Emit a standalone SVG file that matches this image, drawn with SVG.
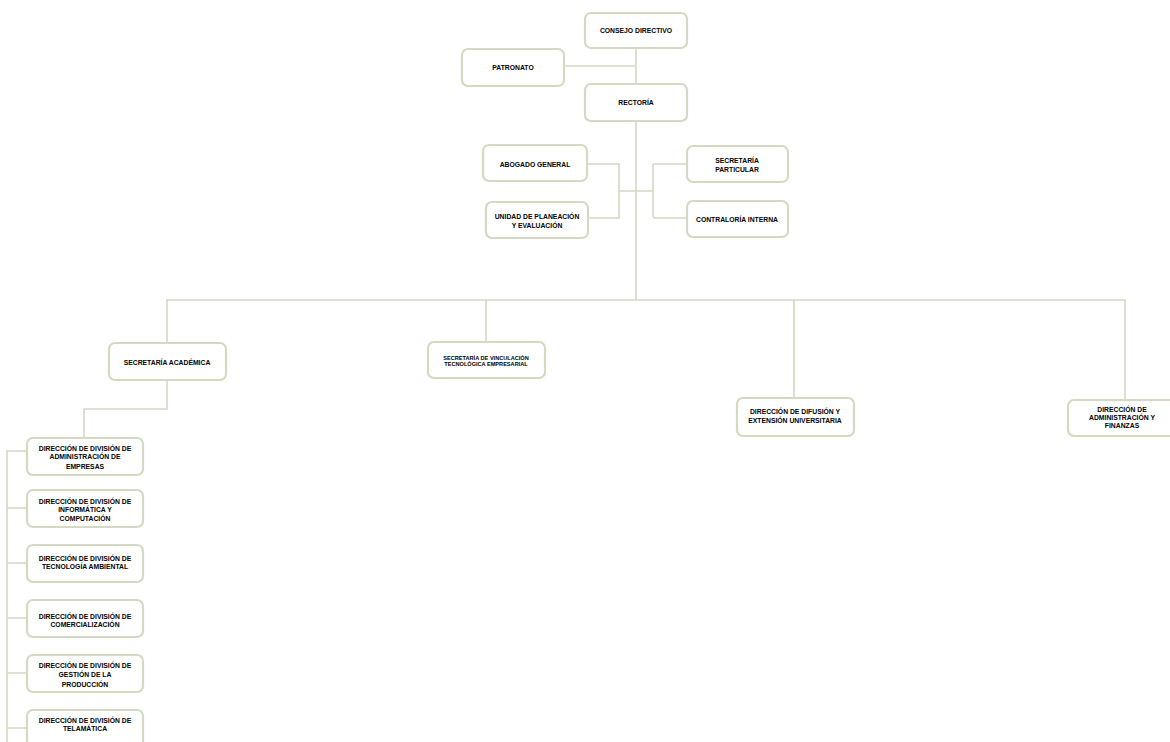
<svg xmlns="http://www.w3.org/2000/svg" width="1170" height="742" viewBox="0 0 1170 742">
<style>
.box{fill:#ffffff;stroke:#d5d8c3;stroke-width:2.2}
.ln{fill:none;stroke:#d5d8c3;stroke-width:1.6}
text{font-family:"Liberation Sans",Arial,sans-serif;font-weight:bold;font-size:6.8px;fill:#000000;text-anchor:middle}
.sm{font-size:5.6px}
</style>
<rect width="1170" height="742" fill="#ffffff"/>
<g id="connectors">
<path class="ln" d="M636 48V84M564 66H636M636 121V300"/>
<path class="ln" d="M587 164H619V218H588M619 191H653M653 164V217M653 164H687M653 218H687"/>
<path class="ln" d="M167 343V300H1125V400M486 300V342M794 300V398"/>
<path class="ln" d="M167 380V409H84V438"/>
<path class="ln" d="M7 742V451H27M7 508H27M7 563H27M7 618H27M7 673H27M7 728H27"/>
</g>
<g id="consejo"><rect class="box" x="585" y="13" width="102" height="35" rx="6"/><text x="636" y="33">CONSEJO DIRECTIVO</text></g>
<g id="patronato"><rect class="box" x="462" y="49" width="102" height="37" rx="6"/><text x="513" y="70">PATRONATO</text></g>
<g id="rectoria"><rect class="box" x="585" y="84" width="102" height="37" rx="6"/><text x="636" y="105">RECTORÍA</text></g>
<g id="abogado"><rect class="box" x="483" y="145" width="104" height="36" rx="6"/><text x="535" y="166.5">ABOGADO GENERAL</text></g>
<g id="unidad"><rect class="box" x="486" y="202" width="102" height="36" rx="6"/><text x="537" y="218.5">UNIDAD DE PLANEACIÓN</text><text x="537" y="227.5">Y EVALUACIÓN</text></g>
<g id="particular"><rect class="box" x="687" y="146" width="101" height="36" rx="6"/><text x="737" y="162.5">SECRETARÍA</text><text x="737" y="171.5">PARTICULAR</text></g>
<g id="contraloria"><rect class="box" x="687" y="201" width="101" height="36" rx="6"/><text x="737" y="221.5">CONTRALORÍA INTERNA</text></g>
<g id="academica"><rect class="box" x="109" y="343" width="117" height="37" rx="6"/><text x="167" y="364.5">SECRETARÍA ACADÉMICA</text></g>
<g id="vinculacion"><rect class="box" x="428" y="342" width="117" height="36" rx="6"/><text class="sm" x="486" y="360">SECRETARÍA DE VINCULACIÓN</text><text class="sm" x="486" y="366">TECNOLÓGICA EMPRESARIAL</text></g>
<g id="difusion"><rect class="box" x="737" y="398" width="117" height="38" rx="6"/><text x="795" y="413.5">DIRECCIÓN DE DIFUSIÓN Y</text><text x="795" y="423">EXTENSIÓN UNIVERSITARIA</text></g>
<g id="finanzas"><rect class="box" x="1068" y="400" width="115" height="36" rx="6"/><text x="1122" y="411.5">DIRECCIÓN DE</text><text x="1122" y="419.5">ADMINISTRACIÓN Y</text><text x="1122" y="427.5">FINANZAS</text></g>
<g id="div-empresas"><rect class="box" x="27" y="438" width="116" height="37" rx="6"/><text x="85" y="450.5">DIRECCIÓN DE DIVISIÓN DE</text><text x="85" y="459">ADMINISTRACIÓN DE</text><text x="85" y="469">EMPRESAS</text></g>
<g id="div-informatica"><rect class="box" x="27" y="490" width="116" height="37" rx="6"/><text x="85" y="503.5">DIRECCIÓN DE DIVISIÓN DE</text><text x="85" y="511.5">INFORMÁTICA Y</text><text x="85" y="520.5">COMPUTACIÓN</text></g>
<g id="div-ambiental"><rect class="box" x="27" y="545" width="116" height="37" rx="6"/><text x="85" y="560.5">DIRECCIÓN DE DIVISIÓN DE</text><text x="85" y="568.5">TECNOLOGÍA AMBIENTAL</text></g>
<g id="div-comercializacion"><rect class="box" x="27" y="600" width="116" height="37" rx="6"/><text x="85" y="618.5">DIRECCIÓN DE DIVISIÓN DE</text><text x="85" y="626.5">COMERCIALIZACIÓN</text></g>
<g id="div-produccion"><rect class="box" x="27" y="655" width="116" height="37" rx="6"/><text x="85" y="667.5">DIRECCIÓN DE DIVISIÓN DE</text><text x="85" y="676.5">GESTIÓN DE LA</text><text x="85" y="686.5">PRODUCCIÓN</text></g>
<g id="div-telematica"><rect class="box" x="27" y="710" width="116" height="40" rx="6"/><text x="85" y="722.5">DIRECCIÓN DE DIVISIÓN DE</text><text x="85" y="730.5">TELAMÁTICA</text></g>
</svg>
